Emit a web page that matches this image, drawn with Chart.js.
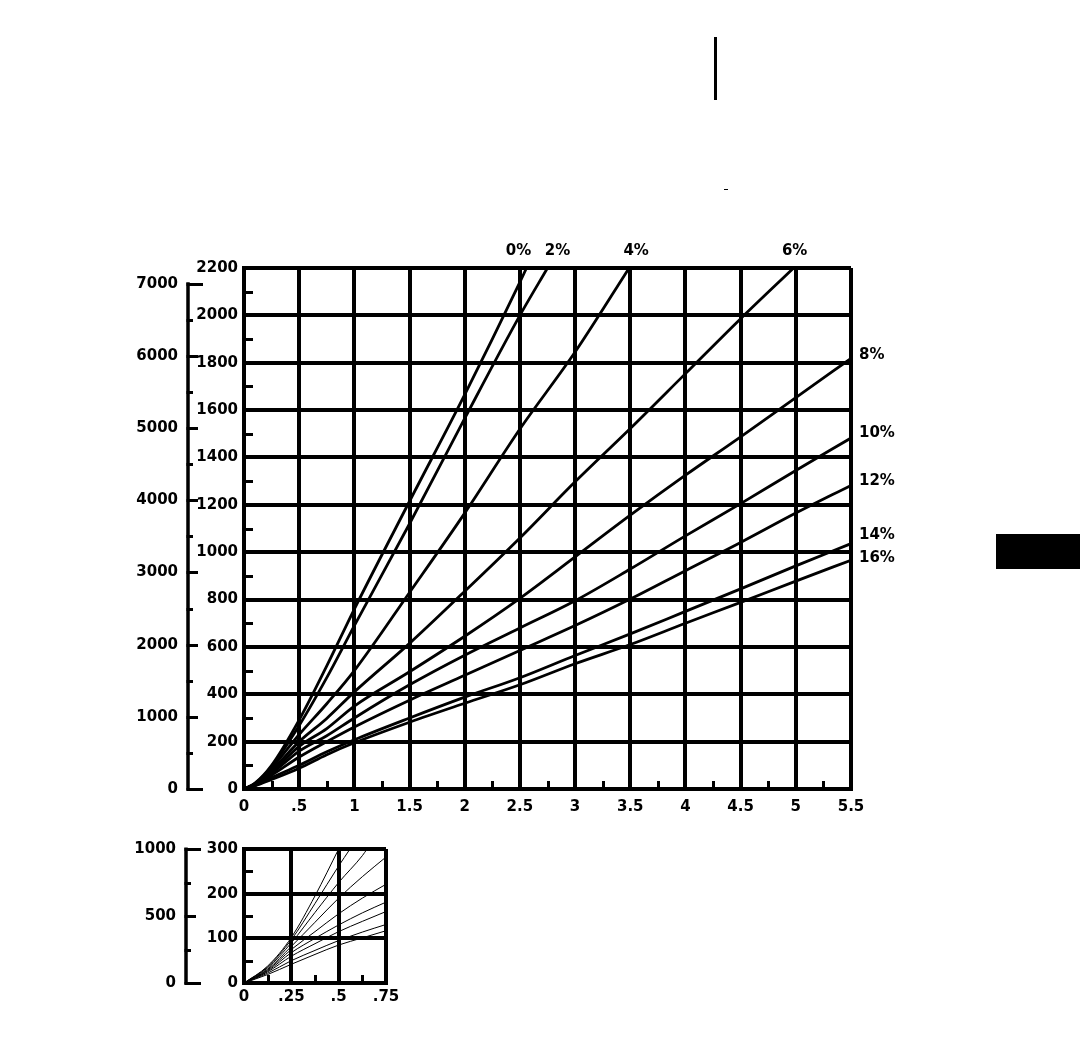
<!DOCTYPE html>
<html>
<head>
<meta charset="utf-8">
<script src="https://cdn.jsdelivr.net/npm/chart.js@4.4.1/dist/chart.umd.min.js"></script>
<style>
  body { margin: 0; background: #fff; width: 1080px; height: 1058px; position: relative; overflow: hidden; }
  #mainChart { position: absolute; left: 0; top: 0; }
  #insetChart { position: absolute; left: 0; top: 830px; }
  .mark { position: absolute; background: #000; }
</style>
</head>
<body>
<canvas id="mainChart" width="1080" height="830"></canvas>
<canvas id="insetChart" width="420" height="228"></canvas>
<!-- stray marks of the scanned sheet -->
<div class="mark" style="left:714px;top:37px;width:3px;height:63px"></div>
<div class="mark" style="left:724px;top:189px;width:4px;height:1px"></div>
<div class="mark" style="left:996px;top:534px;width:84px;height:35px"></div>
<script>
// Curve labels (grade)
const gradeLabels = ['0%', '2%', '4%', '6%', '8%', '10%', '12%', '14%', '16%'];

// Main chart: distance on x, height in m on y (feet on the outer scale)
const mainX = [0, 0.1, 0.25, 0.5, 0.75, 1, 1.5, 2, 2.5, 3, 3.5, 4, 4.5, 5, 5.5];
const mainTopExitX = [2.56, 2.75, 3.49, 4.98];   // where 0%..6% leave the top at 2200
const main0 = [0, 25, 100, 292, 520, 760, 1215, 1665, 2140];
const main2 = [0, 24, 95, 268, 470, 690, 1120, 1565, 2000];
const main4 = [0, 22, 88, 230, 360, 500, 830, 1165, 1520, 1845];
const main6 = [0, 20, 78, 200, 298, 410, 615, 835, 1060, 1297, 1522, 1754, 1986];
const main8 = [0, 19, 70, 180, 255, 350, 495, 645, 805, 980, 1156, 1325, 1487, 1653, 1818];
const main10 = [0, 18, 65, 160, 225, 300, 440, 565, 680, 795, 929, 1069, 1205, 1345, 1482];
const main12 = [0, 16, 58, 135, 200, 262, 375, 480, 585, 690, 802, 922, 1041, 1165, 1282];
const main14 = [0, 15, 48, 100, 157, 208, 300, 388, 470, 564, 655, 750, 845, 942, 1036];
const main16 = [0, 13, 40, 88, 145, 195, 282, 362, 440, 529, 610, 700, 788, 878, 966];

const mainXTickLabels = ['0', '.5', '1', '1.5', '2', '2.5', '3', '3.5', '4', '4.5', '5', '5.5'];
const mainYTickLabels = ['0', '200', '400', '600', '800', '1000', '1200', '1400', '1600', '1800', '2000', '2200'];
const mainFtTickLabels = ['0', '1000', '2000', '3000', '4000', '5000', '6000', '7000'];

// Inset: the start of the curves, enlarged
const insetX = [0, 0.125, 0.25, 0.375, 0.5, 0.625, 0.75];
const insetTopExitX = [null, 0.56, 0.65];
const inset0 = [0, 38, 102, 195, 300];
const inset2 = [0, 36, 97, 178, 262];
const inset4 = [0, 34, 90, 158, 225, 285];
const inset6 = [0, 31, 82, 136, 190, 238, 282];
const inset8 = [0, 29, 75, 115, 155, 190, 221];
const inset10 = [0, 27, 68, 100, 130, 157, 181];
const inset12 = [0, 25, 60, 88, 115, 138, 160];
const inset14 = [0, 22, 50, 73, 95, 114, 131];
const inset16 = [0, 19, 42, 64, 85, 101, 117];

const insetXTickLabels = ['0', '.25', '.5', '.75'];
const insetYTickLabels = ['0', '100', '200', '300'];
const insetFtTickLabels = ['0', '500', '1000'];

const M_TO_FT = 3.28084;

Chart.defaults.font.family = '"DejaVu Sans", sans-serif';
Chart.defaults.font.size = 15;
Chart.defaults.font.weight = 'bold';
Chart.defaults.color = '#000';

function curve(xs, ys, exitX, topY) {
    const pts = ys.map((y, i) => ({ x: xs[i], y: y }));
    if (exitX != null) pts.push({ x: exitX, y: topY });
    return pts;
}

// minor ticks, the feet scale with ticks pointing right, and curve labels
const figureMarks = {
    id: 'figureMarks',
    afterDraw(chart, args, opts) {
        const ctx = chart.ctx;
        const area = chart.chartArea;
        const xs = chart.scales.x, ys = chart.scales.y, ft = chart.scales.yFt;
        ctx.save();
        ctx.strokeStyle = '#000';
        ctx.fillStyle = '#000';

        ctx.lineWidth = 3;
        ctx.beginPath();
        for (let v = opts.yMinor; v < ys.max; v += opts.yMinor * 2) {
            const py = Math.round(ys.getPixelForValue(v)) + 0.5;
            ctx.moveTo(area.left, py);
            ctx.lineTo(area.left + 9, py);
        }
        for (let v = opts.xMinor; v < xs.max; v += opts.xMinor * 2) {
            const px = Math.round(xs.getPixelForValue(v)) + 0.5;
            ctx.moveTo(px, area.bottom);
            ctx.lineTo(px, area.bottom - 8);
        }
        ctx.stroke();

        const fx = ft.right;
        ctx.lineWidth = 3.5;
        ctx.beginPath();
        ctx.moveTo(fx, ft.getPixelForValue(0) + 1.5);
        ctx.lineTo(fx, ft.getPixelForValue(opts.ftTop) - 1.5);
        ctx.stroke();
        ctx.lineWidth = 3;
        ctx.beginPath();
        for (let v = 0; v <= opts.ftTop; v += opts.ftStep) {
            const py = Math.round(ft.getPixelForValue(v)) + 0.5;
            let len = v % (opts.ftStep * 2) === 0 ? 10 : 5;
            if (v === 0 || v === opts.ftTop) len = 15;
            ctx.moveTo(fx - 1.5, py);
            ctx.lineTo(fx + len, py);
        }
        ctx.stroke();

        if (opts.labels) {
            const topNudge = { '0%': -8, '2%': 10, '4%': 7, '6%': 1 };
            const sideNudge = { '8%': -3, '10%': -5, '14%': -9, '16%': -2 };
            ctx.font = 'bold 15px "DejaVu Sans", sans-serif';
            ctx.textBaseline = 'middle';
            chart.data.datasets.forEach((ds, i) => {
                const pts = chart.getDatasetMeta(i).data;
                const end = pts[pts.length - 1];
                const name = ds.label;
                if (ds.data[ds.data.length - 1].y >= ys.max) {
                    ctx.textAlign = 'center';
                    ctx.fillText(name, end.x + (topNudge[name] || 0), area.top - 17);
                } else {
                    ctx.textAlign = 'left';
                    ctx.fillText(name, area.right + 8, end.y + (sideNudge[name] !== undefined ? sideNudge[name] : -4));
                }
            });
        }
        ctx.restore();
    }
};

function buildChart(canvasId, cfg) {
    const datasets = cfg.series.map((ys, i) => ({
        label: gradeLabels[i],
        data: curve(cfg.xValues, ys, cfg.exitX[i], cfg.yMax),
        borderColor: '#000',
        borderWidth: cfg.lineWidth,
        pointRadius: 0,
        fill: false,
        cubicInterpolationMode: 'monotone'
    }));
    return new Chart(document.getElementById(canvasId), {
        type: 'line',
        data: { datasets: datasets },
        options: {
            responsive: false,
            animation: false,
            devicePixelRatio: 1,
            events: [],
            layout: { padding: cfg.padding },
            plugins: {
                legend: { display: false },
                tooltip: { enabled: false },
                figureMarks: {
                    yMinor: cfg.yStep / 2,
                    xMinor: cfg.xStep / 2,
                    ftTop: cfg.ftTop,
                    ftStep: cfg.ftStep,
                    labels: cfg.labels
                }
            },
            scales: {
                x: {
                    type: 'linear',
                    min: 0,
                    max: cfg.xMax,
                    grid: { color: '#000', lineWidth: 4, drawTicks: false },
                    border: { display: true, color: '#000', width: 4 },
                    ticks: {
                        stepSize: cfg.xStep,
                        autoSkip: false,
                        maxRotation: 0,
                        padding: cfg.xPad,
                        callback: (v, i) => cfg.xTickLabels[i]
                    },
                    afterFit: (scale) => { scale.height = 30; }
                },
                y: {
                    position: 'left',
                    weight: 0,
                    min: 0,
                    max: cfg.yMax,
                    grid: { color: '#000', lineWidth: 4, drawTicks: false },
                    border: { display: true, color: '#000', width: 4 },
                    ticks: {
                        stepSize: cfg.yStep,
                        autoSkip: false,
                        padding: 6,
                        callback: (v, i) => cfg.yTickLabels[i]
                    },
                    afterFit: (scale) => { scale.width = cfg.yWidth; }
                },
                yFt: {
                    position: 'left',
                    weight: 1,
                    min: 0,
                    max: cfg.ftMax,
                    grid: { display: false, drawTicks: false },
                    border: { display: false },
                    ticks: {
                        autoSkip: false,
                        padding: 10,
                        callback: (v) => (v % (cfg.ftStep * 2) === 0 ? cfg.ftTickLabels[v / (cfg.ftStep * 2)] : '')
                    },
                    // the feet range does not end on a round value, so set the ticks by hand
                    afterBuildTicks: (scale) => {
                        const t = [];
                        for (let v = 0; v <= cfg.ftTop; v += cfg.ftStep) t.push({ value: v });
                        scale.ticks = t;
                    },
                    afterFit: (scale) => { scale.width = 60; }
                }
            }
        },
        plugins: [figureMarks]
    });
}

buildChart('mainChart', {
    series: [main0, main2, main4, main6, main8, main10, main12, main14, main16],
    xValues: mainX,
    exitX: mainTopExitX,
    xMax: 5.5, xStep: 0.5,
    yMax: 2200, yStep: 200,
    ftMax: 2200 * M_TO_FT, ftTop: 7000, ftStep: 500,
    xTickLabels: mainXTickLabels,
    yTickLabels: mainYTickLabels,
    ftTickLabels: mainFtTickLabels,
    lineWidth: 2.8,
    yWidth: 56,
    xPad: 9,
    padding: { left: 128, right: 229, top: 268, bottom: 11 },
    labels: true
});

buildChart('insetChart', {
    series: [inset0, inset2, inset4, inset6, inset8, inset10, inset12, inset14, inset16],
    xValues: insetX,
    exitX: insetTopExitX,
    xMax: 0.75, xStep: 0.25,
    yMax: 300, yStep: 100,
    ftMax: 1000, ftTop: 1000, ftStep: 250,
    xTickLabels: insetXTickLabels,
    yTickLabels: insetYTickLabels,
    ftTickLabels: insetFtTickLabels,
    lineWidth: 1,
    yWidth: 58,
    xPad: 5,
    padding: { left: 126, right: 34, top: 15, bottom: 45 },
    labels: false
});
</script>
</body>
</html>
